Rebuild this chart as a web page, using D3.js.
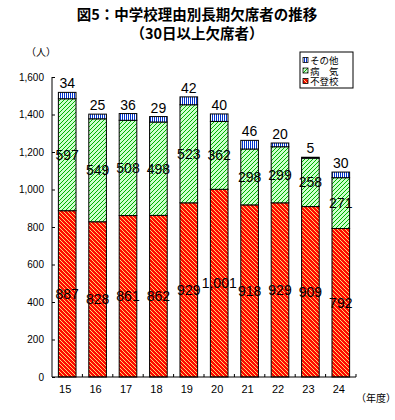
<!DOCTYPE html>
<html lang="ja">
<head>
<meta charset="UTF-8">
<title>図5</title>
<script src="https://cdn.jsdelivr.net/npm/d3@7"></script>
<style>
  body { margin: 0; background: #fff; }
  text { font-family: "Liberation Sans", Arial, sans-serif; }
  .jp { font-family: "Noto Sans CJK JP", sans-serif; }
</style>
</head>
<body>
<script>
  // データ
  var years    = ["15", "16", "17", "18", "19", "20", "21", "22", "23", "24"];
  var futoko   = [887, 828, 861, 862, 929, 1001, 918, 929, 909, 792];   // 不登校
  var byoki    = [597, 549, 508, 498, 523, 362, 298, 299, 258, 271];    // 病気
  var sonota   = [34, 25, 36, 29, 42, 40, 46, 20, 5, 30];               // その他
  var yTicks   = [0, 200, 400, 600, 800, 1000, 1200, 1400, 1600];
  var seriesNames = ["不登校", "病　気", "その他"];

  var width = 395, height = 420;
  var mLeft = 52, mRight = 356, mTop = 77, mBottom = 377;

  var svg = d3.select("body").append("svg")
      .attr("width", width)
      .attr("height", height);

  // ハッチング
  var defs = svg.append("defs");
  var pRed = defs.append("pattern").attr("id", "pRed")
      .attr("patternUnits", "userSpaceOnUse").attr("width", 4).attr("height", 4);
  pRed.append("rect").attr("width", 4).attr("height", 4).attr("fill", "#ff0a00");
  pRed.append("path").attr("d", "M-1,-1 L5,5 M-1,3 L1,5 M3,-1 L5,1")
      .attr("stroke", "#ffee80").attr("stroke-width", 0.9);

  var pGreen = defs.append("pattern").attr("id", "pGreen")
      .attr("patternUnits", "userSpaceOnUse").attr("width", 4).attr("height", 4);
  pGreen.append("rect").attr("width", 4).attr("height", 4).attr("fill", "#ccffcc");
  pGreen.append("path").attr("d", "M-1,5 L5,-1 M-1,1 L1,-1 M3,5 L5,3")
      .attr("stroke", "#00b000").attr("stroke-width", 1);

  var pBlue = defs.append("pattern").attr("id", "pBlue")
      .attr("patternUnits", "userSpaceOnUse").attr("width", 2).attr("height", 4);
  pBlue.append("rect").attr("width", 2).attr("height", 4).attr("fill", "#ffffff");
  pBlue.append("rect").attr("width", 1).attr("height", 4).attr("fill", "#0033cc");

  var fills = ["url(#pRed)", "url(#pGreen)", "url(#pBlue)"];

  var x = d3.scaleBand().domain(years).range([mLeft, mRight]).paddingInner(0.42).paddingOuter(0.21);
  var y = d3.scaleLinear().domain([0, 1600]).range([mBottom, mTop]);

  var rows = years.map(function(yr, i) {
    return { year: yr, futoko: futoko[i], byoki: byoki[i], sonota: sonota[i] };
  });
  var stack = d3.stack().keys(["futoko", "byoki", "sonota"])(rows);

  var layers = svg.selectAll(".layer").data(stack).enter().append("g")
      .attr("fill", function(d, i) { return fills[i]; });

  layers.selectAll("rect").data(function(d) { return d; }).enter().append("rect")
      .attr("x", function(d) { return x(d.data.year); })
      .attr("y", function(d) { return y(d[1]); })
      .attr("width", x.bandwidth())
      .attr("height", function(d) { return y(d[0]) - y(d[1]); })
      .attr("stroke", "#000")
      .attr("stroke-width", 1);

  // 値ラベル
  var labelLayers = svg.selectAll(".lbl").data(stack).enter().append("g");
  labelLayers.selectAll("text").data(function(d, i) {
      return d.map(function(p) { return { p: p, layer: i }; });
    }).enter().append("text")
      .attr("x", function(d) { return x(d.p.data.year) + x.bandwidth() / 2; })
      .attr("y", function(d) {
        if (d.layer === 2) return y(d.p[1]) - 4;
        return (y(d.p[0]) + y(d.p[1])) / 2 + 5;
      })
      .attr("text-anchor", "middle")
      .attr("font-size", 14)
      .attr("fill", "#000")
      .text(function(d) { return d3.format(",")(d.p[1] - d.p[0]); });

  // 軸
  var yAxis = d3.axisLeft(y).tickValues(yTicks).tickSize(-3).tickPadding(8)
      .tickFormat(d3.format(","));
  var gy = svg.append("g").attr("transform", "translate(" + mLeft + ",0)").call(yAxis);
  gy.select(".domain").attr("d", "M0," + mTop + "V" + mBottom);
  gy.selectAll("text").attr("font-size", 10).attr("font-family", "Liberation Sans, Arial, sans-serif");

  var gx = svg.append("g").attr("transform", "translate(0," + mBottom + ")");
  gx.append("line").attr("x1", mLeft).attr("x2", mRight).attr("stroke", "#000");
  var step = (mRight - mLeft) / years.length;
  gx.selectAll(".tk").data(years).enter().append("line")
      .attr("x1", function(d, i) { return mLeft + step * (i + 1); })
      .attr("x2", function(d, i) { return mLeft + step * (i + 1); })
      .attr("y1", 0).attr("y2", -3).attr("stroke", "#000");
  gx.selectAll(".xl").data(years).enter().append("text")
      .attr("x", function(d) { return x(d) + x.bandwidth() / 2 - 2; })
      .attr("y", 16)
      .attr("text-anchor", "middle")
      .attr("font-size", 11)
      .text(function(d) { return d; });

  // タイトル
  svg.append("text").attr("class", "jp").attr("x", 197).attr("y", 20)
      .attr("text-anchor", "middle").attr("font-size", 14.5).attr("font-weight", "bold")
      .text("図5：中学校理由別長期欠席者の推移");
  svg.append("text").attr("class", "jp").attr("x", 197).attr("y", 39)
      .attr("text-anchor", "middle").attr("font-size", 14.5).attr("font-weight", "bold")
      .text("（30日以上欠席者）");

  svg.append("text").attr("class", "jp").attr("x", 26).attr("y", 56)
      .attr("font-size", 10).text("（人）");
  svg.append("text").attr("class", "jp").attr("x", 356).attr("y", 402)
      .attr("font-size", 10).text("（年度）");

  // 凡例
  var lg = svg.append("g").attr("transform", "translate(300,52)");
  lg.append("rect").attr("width", 53).attr("height", 36)
      .attr("fill", "#fff").attr("stroke", "#000");
  var order = [2, 1, 0];
  order.forEach(function(k, i) {
    var ly = 8.5 + i * 10.5;
    lg.append("rect").attr("x", 3).attr("y", ly - 3).attr("width", 5).attr("height", 5)
        .attr("fill", fills[k]).attr("stroke", "#000").attr("stroke-width", 0.8);
    lg.append("text").attr("class", "jp").attr("x", 10).attr("y", ly + 3.5)
        .attr("font-size", 9.5).text(seriesNames[k]);
  });
</script>
</body>
</html>
